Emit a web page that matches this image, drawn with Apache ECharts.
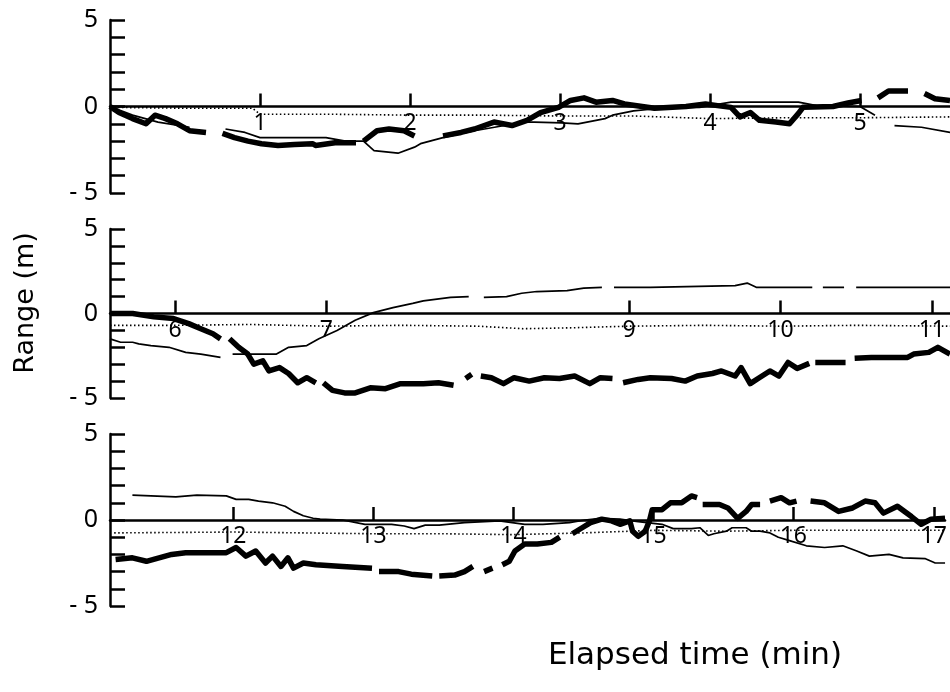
<!DOCTYPE html>
<html>
<head>
<meta charset="utf-8">
<script src="https://cdn.jsdelivr.net/npm/echarts@6/dist/echarts.min.js"></script>
<style>
html,body{margin:0;padding:0;background:#fff;}
#chart{width:950px;height:692px;}
</style>
</head>
<body>
<div id="chart"></div>
<script>
// ---- Data (elapsed time in min, range in m); null = gap in the trace ----
const xRange1 = [0, 5.6];
const xRange2 = [5.57, 11.12];
const xRange3 = [11.12, 17.08];
const xTicks1 = [1, 2, 3, 4, 5];
const xTicks2 = [6, 7, 9, 10, 11];
const xTicks3 = [12, 13, 14, 15, 16, 17];
const yTickLabels = [-5, 0, 5];

const p1Thick = [[0,0],[0.06,-0.35],[0.15,-0.7],[0.24,-1.0],[0.30,-0.5],[0.37,-0.7],[0.45,-1.0],[0.53,-1.4],[0.64,-1.5],null,
  [0.75,-1.55],[0.83,-1.8],[0.92,-2.0],[1.01,-2.15],[1.12,-2.25],[1.23,-2.2],[1.35,-2.15],[1.37,-2.25],[1.50,-2.1],[1.64,-2.1],null,
  [1.69,-2.0],[1.78,-1.4],[1.86,-1.3],[1.96,-1.4],[2.03,-1.7],null,
  [2.22,-1.7],[2.34,-1.5],[2.43,-1.3],[2.56,-0.9],[2.68,-1.1],[2.78,-0.8],[2.87,-0.35],[2.99,-0.05],[3.07,0.35],[3.16,0.5],[3.24,0.25],[3.35,0.35],[3.43,0.15],
  [3.63,-0.1],[3.84,0],[3.97,0.15],[4.05,0.05],[4.14,-0.05],[4.20,-0.6],[4.27,-0.35],[4.33,-0.8],[4.44,-0.9],[4.53,-1.0],[4.59,-0.4],[4.62,-0.05],
  [4.82,0],[4.92,0.2],[5.01,0.35],null,[5.12,0.5],[5.19,0.9],[5.32,0.9],null,[5.43,0.75],[5.5,0.45],[5.6,0.35]];
const p1Thin = [[0,0],[0.15,-0.5],[0.32,-0.9],[0.53,-1.2],null,[0.77,-1.3],[0.90,-1.5],[1.0,-1.8],[1.23,-1.8],[1.44,-1.8],[1.57,-2.0],[1.69,-2.0],
  [1.76,-2.55],[1.92,-2.7],[2.03,-2.35],[2.07,-2.15],[2.22,-1.8],[2.43,-1.4],[2.63,-1.1],[2.75,-0.9],[2.83,-0.9],[3.01,-0.95],[3.12,-1.0],
  [3.30,-0.7],[3.35,-0.5],[3.49,-0.25],[3.67,-0.1],[3.93,-0.05],[4.14,0.25],[4.59,0.25],[4.71,0.05],[5.0,0],[5.1,-0.5],null,[5.23,-1.1],[5.41,-1.2],[5.6,-1.5]];
const p1Dot = [[0,-0.05],[0.5,-0.1],[0.95,-0.1],[1.0,-0.45],[1.5,-0.45],[2.0,-0.5],[2.5,-0.5],[3.0,-0.55],[3.5,-0.55],[4.0,-0.7],[4.5,-0.65],[5.0,-0.65],[5.6,-0.6]];

const p2Thick = [[5.57,0],[5.72,0],[5.86,-0.2],[5.99,-0.3],[6.09,-0.6],[6.17,-0.9],[6.25,-1.2],[6.30,-1.5],null,
  [6.36,-1.5],[6.42,-2.0],[6.48,-2.4],[6.52,-3.0],[6.58,-2.8],[6.62,-3.4],[6.69,-3.2],[6.75,-3.55],[6.81,-4.1],[6.87,-3.8],[6.93,-4.1],null,
  [6.98,-4.1],[7.04,-4.55],[7.12,-4.7],[7.19,-4.7],[7.29,-4.4],[7.39,-4.45],[7.49,-4.15],[7.64,-4.15],[7.74,-4.1],[7.84,-4.25],null,
  [7.92,-3.85],[7.96,-3.6],null,
  [8.02,-3.7],[8.09,-3.8],[8.17,-4.15],[8.24,-3.8],[8.34,-4.0],[8.44,-3.8],[8.54,-3.85],[8.64,-3.7],[8.74,-4.15],[8.81,-3.8],[8.89,-3.85],null,
  [8.96,-4.1],[9.06,-3.9],[9.14,-3.8],[9.28,-3.85],[9.37,-4.0],[9.45,-3.7],[9.55,-3.55],[9.61,-3.4],[9.70,-3.7],[9.74,-3.2],[9.80,-4.15],
  [9.86,-3.8],[9.93,-3.4],[9.99,-3.7],[10.05,-2.9],[10.11,-3.25],[10.19,-2.95],null,[10.23,-2.9],[10.43,-2.9],null,
  [10.49,-2.65],[10.60,-2.6],[10.84,-2.6],[10.88,-2.4],[10.98,-2.3],[11.04,-2.0],[11.12,-2.4]];
const p2Thin = [[5.57,-1.5],[5.64,-1.7],[5.72,-1.7],[5.76,-1.8],[5.84,-1.9],[5.96,-2.0],[6.07,-2.3],[6.17,-2.4],[6.30,-2.6],null,
  [6.38,-2.4],[6.50,-2.4],[6.67,-2.4],[6.75,-2.0],[6.87,-1.9],[6.95,-1.5],[7.07,-1.0],[7.19,-0.4],[7.31,0.05],[7.44,0.35],[7.57,0.6],
  [7.64,0.75],[7.82,0.95],[7.94,1.0],null,[8.04,0.95],[8.19,1.0],[8.29,1.2],[8.39,1.3],[8.59,1.35],[8.70,1.5],[8.82,1.55],null,
  [8.90,1.55],[9.14,1.55],[9.70,1.65],[9.78,1.8],[9.84,1.55],[10.21,1.55],null,[10.28,1.55],[10.42,1.55],null,[10.50,1.55],[10.90,1.55],[11.12,1.55]];
const p2Dot = [[5.57,-0.7],[6,-0.7],[6.5,-0.65],[7,-0.75],[7.5,-0.7],[8,-0.75],[8.3,-0.9],[8.6,-0.85],[9,-0.75],[9.5,-0.7],[10,-0.75],[10.5,-0.7],[11.12,-0.75]];

const p3Thick = [[11.16,-2.3],[11.28,-2.2],[11.38,-2.4],[11.47,-2.2],[11.56,-2.0],[11.66,-1.9],[11.83,-1.9],[11.95,-1.9],[12.02,-1.6],
  [12.09,-2.1],[12.16,-1.8],[12.23,-2.5],[12.28,-2.1],[12.34,-2.7],[12.39,-2.2],[12.43,-2.8],[12.50,-2.5],[12.59,-2.6],[12.78,-2.7],[12.99,-2.8],null,
  [13.04,-3.0],[13.18,-3.0],[13.27,-3.15],[13.42,-3.25],null,[13.47,-3.25],[13.58,-3.2],[13.65,-3.0],[13.71,-2.7],null,
  [13.79,-3.0],[13.85,-2.8],null,[13.92,-2.6],[13.97,-2.4],[14.01,-1.8],[14.08,-1.4],[14.17,-1.4],[14.27,-1.3],[14.33,-1.0],null,
  [14.42,-0.8],[14.49,-0.45],[14.55,-0.15],[14.63,0.05],[14.70,-0.05],[14.76,-0.25],[14.83,-0.05],[14.85,-0.65],[14.89,-0.95],[14.94,-0.65],
  [14.97,-0.05],[14.99,0.6],[15.06,0.6],[15.12,1.0],[15.20,1.0],[15.27,1.4],[15.31,1.3],null,
  [15.35,0.9],[15.47,0.9],[15.53,0.7],[15.60,0.1],[15.66,0.5],[15.70,0.9],[15.76,0.9],null,
  [15.83,1.1],[15.91,1.3],[15.97,1.0],[16.02,1.1],null,[16.12,1.1],[16.22,1.0],[16.32,0.5],[16.42,0.7],[16.51,1.1],[16.58,1.0],
  [16.64,0.4],[16.74,0.8],[16.84,0.2],[16.91,-0.25],[16.98,0.05],[17.08,0.1]];
const p3Thin = [[11.28,1.45],[11.59,1.35],[11.74,1.45],[11.95,1.4],[12.02,1.2],[12.11,1.2],[12.18,1.1],[12.28,1.0],[12.37,0.8],[12.43,0.5],
  [12.50,0.25],[12.57,0.1],[12.62,0.05],[12.78,0],[12.94,-0.25],[13.13,-0.25],[13.22,-0.35],[13.29,-0.5],[13.37,-0.3],[13.47,-0.3],
  [13.65,-0.15],[13.90,-0.05],[14.08,-0.25],[14.21,-0.25],[14.40,-0.15],[14.51,0],[14.62,0.1],[14.76,0.05],[14.89,-0.1],[15.06,-0.25],
  [15.14,-0.5],[15.27,-0.5],[15.33,-0.45],[15.39,-0.9],[15.43,-0.8],[15.52,-0.65],[15.56,-0.45],[15.66,-0.45],[15.70,-0.65],[15.76,-0.65],
  [15.83,-0.75],[15.89,-1.0],[15.97,-1.2],[16.09,-1.5],[16.22,-1.6],[16.35,-1.5],[16.45,-1.8],[16.54,-2.1],[16.68,-2.0],[16.78,-2.2],
  [16.94,-2.25],[17.01,-2.5],[17.08,-2.5]];
const p3Dot = [[11.15,-0.75],[12,-0.7],[12.5,-0.75],[13,-0.8],[13.5,-0.8],[14,-0.85],[14.5,-0.75],[15,-0.6],[15.5,-0.65],[16,-0.6],[16.5,-0.6],[17.08,-0.6]];

const yTitle = 'Range (m)';
const xTitle = 'Elapsed time (min)';

// ---- Build chart ----
const FONT = '"Noto Sans", "DejaVu Sans", sans-serif';
const TFONT = '"DejaVu Sans", "Noto Sans", sans-serif';
function prep(arr){
  const out = [];
  arr.forEach((p, i) => {
    if (p === null) {
      const a = arr[i-1], b = arr[i+1];
      out.push([(a[0] + b[0]) / 2, null]);
    } else out.push(p);
  });
  return out;
}
const grids = [
  {left: 110, right: 0, top: 20, height: 173},
  {left: 110, right: 0, top: 229, height: 169},
  {left: 110, right: 0, top: 434, height: 172}
];
const ranges = [xRange1, xRange2, xRange3];
const ticks = [xTicks1, xTicks2, xTicks3];
const xAxes = ranges.map((r, i) => ({
  type: 'value', gridIndex: i, min: r[0], max: r[1], position: 'bottom',
  offset: -grids[i].height / 2,
  axisLine: {show: true, onZero: false, lineStyle: {color: '#000', width: 2.5}},
  axisTick: {show: true, inside: true, length: 13, lineStyle: {color: '#000', width: 2.5}, customValues: ticks[i]},
  axisLabel: {show: true, customValues: ticks[i], margin: 5, color: '#000', fontSize: 23, fontFamily: FONT, showMinLabel: true, showMaxLabel: true},
  splitLine: {show: false}
}));
const yAxes = ranges.map((r, i) => ({
  type: 'value', gridIndex: i, min: -5, max: 5, interval: 1,
  axisLine: {show: true, lineStyle: {color: '#000', width: 2.5}},
  axisTick: {show: true, inside: true, length: 15, lineStyle: {color: '#000', width: 2.5}},
  axisLabel: {show: true, customValues: yTickLabels, margin: 12, color: '#000', fontSize: 25, fontFamily: FONT,
    formatter: v => v < 0 ? '- ' + Math.abs(v) : String(v)},
  splitLine: {show: false}
}));
const panels = [[p1Thick, p1Thin, p1Dot], [p2Thick, p2Thin, p2Dot], [p3Thick, p3Thin, p3Dot]];
const series = [];
panels.forEach((set, i) => {
  series.push({type: 'line', xAxisIndex: i, yAxisIndex: i, data: prep(set[2]), symbol: 'none', connectNulls: false,
    lineStyle: {color: '#000', width: 1.6, type: [1.5, 2.5]}, z: 3, silent: true, animation: false});
  series.push({type: 'line', xAxisIndex: i, yAxisIndex: i, data: prep(set[1]), symbol: 'none', connectNulls: false,
    lineStyle: {color: '#000', width: 1.7}, z: 4, silent: true, animation: false});
  series.push({type: 'line', xAxisIndex: i, yAxisIndex: i, data: prep(set[0]), symbol: 'none', connectNulls: false,
    lineStyle: {color: '#000', width: 5.5, join: 'round'}, z: 5, silent: true, animation: false});
});
const chart = echarts.init(document.getElementById('chart'), null, {renderer: 'canvas'});
chart.setOption({
  backgroundColor: '#fff',
  animation: false,
  grid: grids,
  xAxis: xAxes,
  yAxis: yAxes,
  series: series,
  graphic: [
    {type: 'text', x: 26, y: 303, rotation: Math.PI / 2,
      style: {text: yTitle, font: '27px ' + TFONT, fill: '#000', textAlign: 'center', textVerticalAlign: 'middle'}},
    {type: 'text', x: 695, y: 656,
      style: {text: xTitle, font: '31px ' + TFONT, fill: '#000', textAlign: 'center', textVerticalAlign: 'middle'}}
  ]
});
</script>
</body>
</html>
